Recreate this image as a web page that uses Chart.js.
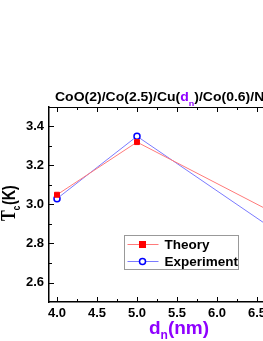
<!DOCTYPE html>
<html>
<head>
<meta charset="utf-8">
<script src="https://cdn.jsdelivr.net/npm/chart.js@4.4.1/dist/chart.umd.min.js"></script>
<style>
  html, body { margin: 0; padding: 0; background: #fff; overflow: hidden; }
  #wrap { width: 320px; height: 341px; }
</style>
</head>
<body>
<div id="wrap"><canvas id="myChart"></canvas></div>
<script>
// data
const dn = [4.0, 5.0, 7.0]
const theory = [3.05, 3.32, 2.895]
const experiment = [3.03, 3.35, 2.79]
const xTicks = [4.0, 4.5, 5.0, 5.5, 6.0, 6.5, 7.0]
const yTicks = [2.6, 2.8, 3.0, 3.2, 3.4]

const purple = '#8f00ff'
const sans = 'Arial, "Liberation Sans", sans-serif'
const toPts = (xs, ys) => xs.map((x, i) => ({ x: x, y: ys[i] }))

// inward ticks, titles and legend drawn on top
const decor = {
  id: 'decor',
  afterDraw(chart) {
    const ctx = chart.ctx
    const xs = chart.scales.x, ys = chart.scales.y
    const a = chart.chartArea
    ctx.save()
    ctx.strokeStyle = '#000'
    ctx.lineWidth = 1
    // frame top line
    ctx.beginPath()
    ctx.moveTo(a.left, a.top + 0.5); ctx.lineTo(a.right, a.top + 0.5)
    ctx.stroke()
    // x ticks (bottom + top)
    for (let v = 4.0; v <= 7.0001; v += 0.25) {
      const px = Math.round(xs.getPixelForValue(v)) + 0.5
      const len = Math.abs(v * 2 - Math.round(v * 2)) < 0.01 ? 5 : 3
      ctx.beginPath()
      ctx.moveTo(px, a.bottom); ctx.lineTo(px, a.bottom - len)
      ctx.moveTo(px, a.top); ctx.lineTo(px, a.top + len)
      ctx.stroke()
    }
    // y ticks
    for (let v = 2.6; v <= 3.4001; v += 0.1) {
      const py = Math.round(ys.getPixelForValue(v)) + 0.5
      const len = Math.abs(v * 5 - Math.round(v * 5)) < 0.01 ? 5 : 3
      ctx.beginPath()
      ctx.moveTo(a.left, py); ctx.lineTo(a.left + len, py)
      ctx.stroke()
    }

    // chart title with coloured d_n
    ctx.textBaseline = 'alphabetic'
    ctx.textAlign = 'left'
    ctx.save()
    ctx.translate(55, 101)
    ctx.scale(1, 0.9)
    let x = 0
    ctx.font = 'bold 14px ' + sans
    ctx.fillStyle = '#000'
    ctx.fillText('CoO(2)/Co(2.5)/Cu(', x, 0); x += ctx.measureText('CoO(2)/Co(2.5)/Cu(').width
    ctx.fillStyle = purple
    ctx.fillText('d', x, 0); x += ctx.measureText('d').width
    ctx.font = 'bold 9px ' + sans
    ctx.fillText('n', x, 5); x += ctx.measureText('n').width
    ctx.font = 'bold 14px ' + sans
    ctx.fillStyle = '#000'
    ctx.fillText(')/Co(0.6)/Nb(x)', x, 0)
    ctx.restore()

    // x axis title
    ctx.fillStyle = purple
    ctx.font = 'bold 19px ' + sans
    x = 149
    const xy = 334
    ctx.fillText('d', x, xy); x += ctx.measureText('d').width
    ctx.font = 'bold 12px ' + sans
    ctx.fillText('n', x, xy + 5); x += ctx.measureText('n').width
    ctx.font = 'bold 19px ' + sans
    ctx.fillText('(nm)', x, xy)

    // y axis title, rotated
    ctx.save()
    ctx.translate(15, 221)
    ctx.rotate(-Math.PI / 2)
    ctx.scale(0.8, 1)
    ctx.fillStyle = '#000'
    ctx.font = 'bold 20px "Liberation Serif", "Times New Roman", serif'
    x = 0
    ctx.fillText('T', x, 0); x += ctx.measureText('T').width
    ctx.font = 'bold 10px ' + sans
    ctx.fillText('c', x, 5); x += ctx.measureText('c').width + 1
    ctx.font = 'bold 18px ' + sans
    ctx.fillText('(K)', x, 0)
    ctx.restore()

    // legend box
    const lx = 124.5, ly = 235.5, lw = 114, lh = 34
    ctx.strokeStyle = '#999'
    ctx.lineWidth = 1
    ctx.strokeRect(lx, ly, lw, lh)
    chart.data.datasets.forEach((ds, i) => {
      const cy = ly + 9 + i * 17
      ctx.strokeStyle = ds.borderColor
      ctx.lineWidth = 1
      ctx.beginPath(); ctx.moveTo(lx + 3, cy); ctx.lineTo(lx + 34, cy); ctx.stroke()
      const mx = lx + 18
      if (ds.pointStyle === 'rect') {
        ctx.fillStyle = ds.pointBackgroundColor
        ctx.fillRect(mx - 3.5, cy - 3.5, 7, 7)
      } else {
        ctx.fillStyle = '#fff'
        ctx.strokeStyle = ds.pointBorderColor
        ctx.lineWidth = ds.pointBorderWidth
        ctx.beginPath(); ctx.arc(mx, cy, 3, 0, Math.PI * 2); ctx.fill(); ctx.stroke()
      }
      ctx.fillStyle = '#000'
      ctx.font = 'bold 13.5px ' + sans
      ctx.textBaseline = 'middle'
      ctx.fillText(ds.label, lx + 40, cy + 1)
      ctx.textBaseline = 'alphabetic'
    })
    ctx.restore()
  }
}

const ctx = document.getElementById('myChart')

new Chart(ctx, {
  type: 'scatter',
  data: {
    datasets: [{
      label: 'Theory',
      data: toPts(dn, theory),
      showLine: true,
      borderColor: '#ff7a7a',
      borderWidth: 1,
      pointStyle: 'rect',
      pointRadius: 3.5,
      pointBackgroundColor: '#ff0000',
      pointBorderColor: '#ff0000',
      pointBorderWidth: 1
    }, {
      label: 'Experiment',
      data: toPts(dn, experiment),
      showLine: true,
      borderColor: '#7a7aff',
      borderWidth: 1,
      pointStyle: 'circle',
      pointRadius: 3,
      pointBackgroundColor: '#ffffff',
      pointBorderColor: '#0000ff',
      pointBorderWidth: 1.5
    }]
  },
  options: {
    responsive: true,
    maintainAspectRatio: false,
    animation: false,
    events: [],
    layout: { padding: { top: 107, right: 15, left: 0, bottom: 0 } },
    plugins: { legend: { display: false }, tooltip: { enabled: false }, title: { display: false } },
    scales: {
      x: {
        type: 'linear',
        min: 3.9, max: 7.1,
        afterFit: s => { s.height = 39 },
        afterBuildTicks: s => { s.ticks = xTicks.map(v => ({ value: v })) },
        grid: { display: false, drawTicks: false },
        border: { display: true, color: '#000', width: 1.5 },
        ticks: {
          padding: 4,
          color: '#000',
          font: { family: sans, size: 13, weight: 'bold' },
          maxRotation: 0,
          callback: v => Number(v).toFixed(1)
        }
      },
      y: {
        type: 'linear',
        min: 2.5, max: 3.5,
        afterFit: s => { s.width = 49 },
        afterBuildTicks: s => { s.ticks = yTicks.map(v => ({ value: v })) },
        grid: { display: false, drawTicks: false },
        border: { display: true, color: '#000', width: 1.5 },
        ticks: {
          padding: 5,
          color: '#000',
          font: { family: sans, size: 13, weight: 'bold' },
          callback: v => Number(v).toFixed(1)
        }
      }
    }
  },
  plugins: [decor]
})
</script>
</body>
</html>
